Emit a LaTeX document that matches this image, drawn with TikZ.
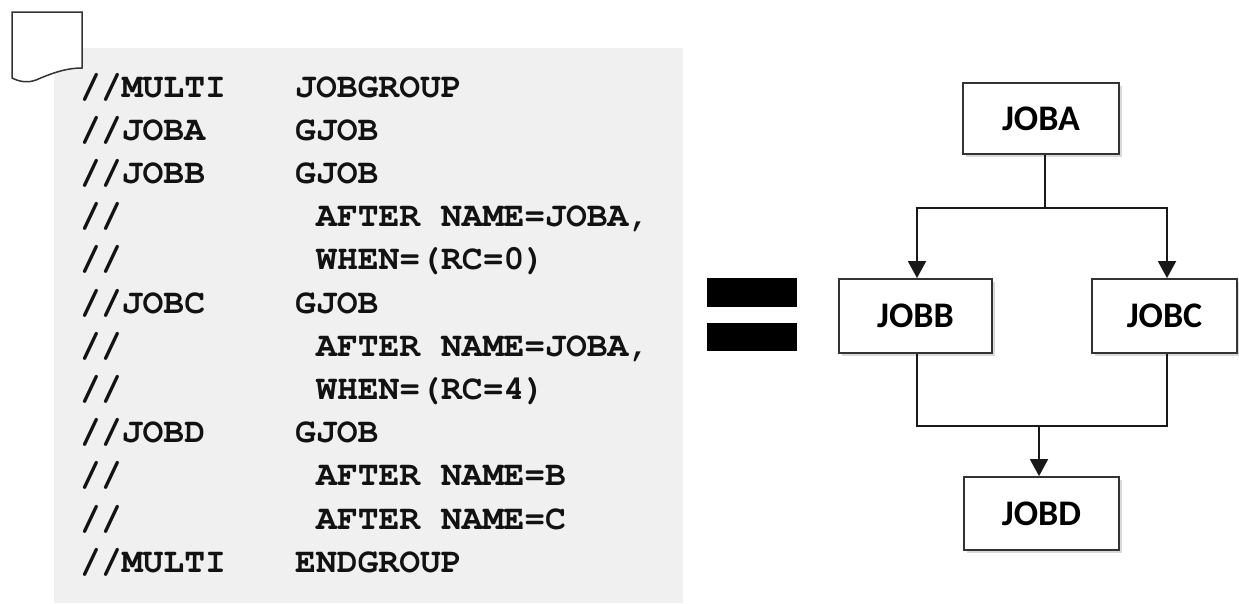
\documentclass[tikz,border=0pt]{standalone}
\usepackage[T1]{fontenc}
\usepackage{fontspec}
\setmainfont{Carlito}
\usetikzlibrary{arrows.meta,shadows,calc}
\definecolor{panelgray}{HTML}{F0F0F0}
\definecolor{inkgray}{HTML}{333333}
% Courier (URW Nimbus Mono) bold for the JCL listing
\newcommand\jclfont{\fontencoding{T1}\fontfamily{pcr}\fontseries{b}\fontshape{n}\fontsize{34.7}{40}\selectfont}

\begin{document}
\begin{tikzpicture}[x=1pt,y=-1pt,
  jobbox/.style={draw=inkgray, line width=1.8pt, fill=white,
    font=\fontsize{36}{42}\selectfont\bfseries, inner sep=0pt,
    drop shadow={opacity=0.3, shadow xshift=2.5pt, shadow yshift=-2.5pt}},
  link/.style={line width=1.8pt, black!90},
  arr/.style={link, -{Triangle[width=18pt,length=17pt]}},
  codeline/.style={anchor=base west, inner sep=0pt,
    font=\jclfont, text=black!93}
]
\path[use as bounding box] (0,0) rectangle (1239,603);

% listing background
\fill[panelgray] (54,48) rectangle (683,603);

% document symbol
\draw[line width=1.5pt, inkgray, fill=white]
  (12,78) -- (12,12) -- (82,12) -- (82,68)
  .. controls (65,68) and (50,74) .. (36,80)
  .. controls (28,83) and (20,82) .. (12,78) -- cycle;

% JCL listing
\def\cA{80}
\def\cB{295}
\def\cC{316}
\node[codeline] (l1a)  at (\cA,97)    {//MULTI};
\node[codeline] (l1b)  at (\cB,97)    {JOBGROUP};
\node[codeline] (l2a)  at (\cA,140.2) {//JOBA};
\node[codeline] (l2b)  at (\cB,140.2) {GJOB};
\node[codeline] (l3a)  at (\cA,183.4) {//JOBB};
\node[codeline] (l3b)  at (\cB,183.4) {GJOB};
\node[codeline] (l4a)  at (\cA,226.6) {//};
\node[codeline] (l4b)  at (\cC,226.6) {AFTER NAME=JOBA,};
\node[codeline] (l5a)  at (\cA,269.8) {//};
\node[codeline] (l5b)  at (\cC,269.8) {WHEN=(RC=0)};
\node[codeline] (l6a)  at (\cA,313)   {//JOBC};
\node[codeline] (l6b)  at (\cB,313)   {GJOB};
\node[codeline] (l7a)  at (\cA,356.2) {//};
\node[codeline] (l7b)  at (\cC,356.2) {AFTER NAME=JOBA,};
\node[codeline] (l8a)  at (\cA,399.4) {//};
\node[codeline] (l8b)  at (\cC,399.4) {WHEN=(RC=4)};
\node[codeline] (l9a)  at (\cA,442.6) {//JOBD};
\node[codeline] (l9b)  at (\cB,442.6) {GJOB};
\node[codeline] (l10a) at (\cA,485.8) {//};
\node[codeline] (l10b) at (\cC,485.8) {AFTER NAME=B};
\node[codeline] (l11a) at (\cA,529)   {//};
\node[codeline] (l11b) at (\cC,529)   {AFTER NAME=C};
\node[codeline] (l12a) at (\cA,572.2) {//MULTI};
\node[codeline] (l12b) at (\cB,572.2) {ENDGROUP};

% equals sign
\fill[black] (707,278) rectangle (797,307);
\fill[black] (707,323) rectangle (797,351);

% job flow
\node[jobbox, minimum width=156pt, minimum height=71pt] (JOBA) at (1041,118.5) {JOBA};
\node[jobbox, minimum width=153pt, minimum height=74pt] (JOBB) at (915.5,316) {JOBB};
\node[jobbox, minimum width=145pt, minimum height=74pt] (JOBC) at (1164.5,316) {JOBC};
\node[jobbox, minimum width=155pt, minimum height=73pt] (JOBD) at (1041.5,513.5) {JOBD};

\coordinate (split) at (1045,208);
\coordinate (join) at (1039,426);

\draw[link] (JOBA.south -| split) -- (split);
\draw[arr] (split) -| ($(JOBB.north)+(1.5,0)$);
\draw[arr] (split) -| ($(JOBC.north)+(2.5,0)$);
\draw[link] ($(JOBB.south)+(1.5,0)$) |- (join);
\draw[link] ($(JOBC.south)+(2.5,0)$) |- (join);
\draw[arr] (join) -- (JOBD.north -| join);
\end{tikzpicture}
\end{document}
